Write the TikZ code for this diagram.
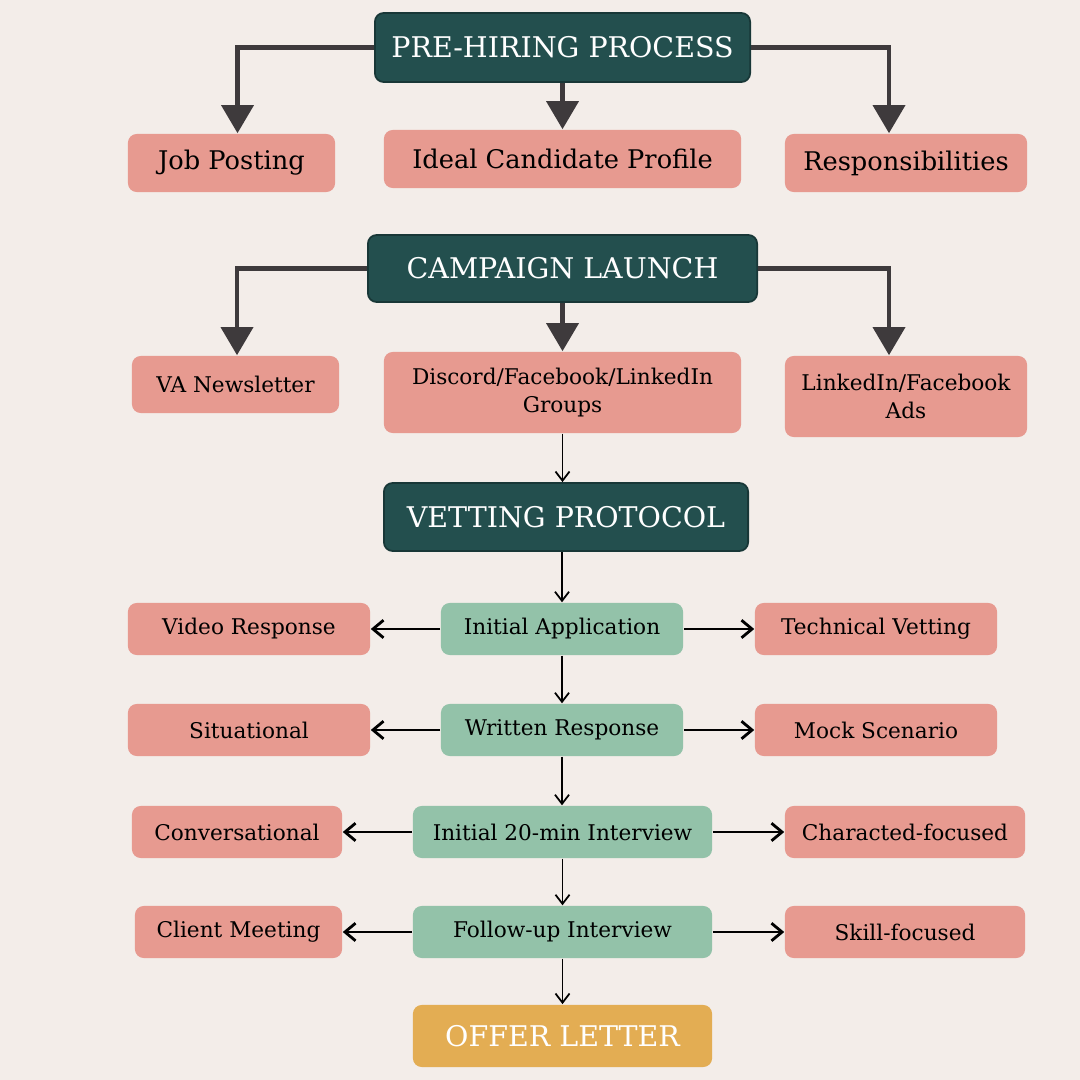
\documentclass[tikz,border=0pt]{standalone}
\usepackage{fontspec}
\setmainfont{DejaVu Serif}
\usetikzlibrary{arrows.meta}

\definecolor{paper}{HTML}{F3EDE9}
\definecolor{teal}{HTML}{234F4E}
\definecolor{rose}{HTML}{E79A90}
\definecolor{sage}{HTML}{93C2A9}
\definecolor{gold}{HTML}{E3AD53}
\definecolor{ink}{HTML}{3E3A3C}

\begin{document}
\begin{tikzpicture}[x=0.01cm, y=-0.01cm,
  title/.style={rectangle, rounded corners=2.5pt, fill=teal, draw=teal!70!black, line width=0.5pt, text=white, font=\fontsize{8.1}{9}\selectfont, inner sep=0pt},
  item/.style={rectangle, rounded corners=2.5pt, fill=rose, text=black, font=\fontsize{6.15}{8.2}\selectfont, align=center, inner sep=0pt},
  bigitem/.style={item, font=\fontsize{7.3}{8}\selectfont},
  stage/.style={item, fill=sage},
  offerbox/.style={title, fill=gold, draw=none},
  fat/.style={draw=ink, line width=1.4pt, -{Triangle[width=9pt,length=8pt]}},
  down/.style={draw=black, line width=0.5pt, -{Straight Barb[length=2.6pt,width=4pt]}},
  side/.style={draw=black, line width=0.8pt, -{Straight Barb[length=3pt,width=5pt]}}]

\fill[paper] (0,0) rectangle (1080,1080);
\useasboundingbox (0,0) rectangle (1080,1080);

% pre-hiring
\node[title, minimum width=3.75cm, minimum height=0.69cm] (pre) at (562.5,47.5) {PRE-HIRING PROCESS};
\node[bigitem, minimum width=2.07cm, minimum height=0.58cm] (job) at (231.5,163) {Job Posting};
\node[bigitem, minimum width=3.57cm, minimum height=0.58cm] (ideal) at (562.5,159) {Ideal Candidate Profile};
\node[bigitem, minimum width=2.42cm, minimum height=0.58cm] (resp) at (906,163) {Responsibilities};

\draw[fat] (pre.west) -| ([xshift=0.06cm]job.north);
\draw[fat] (pre.south) -- (ideal.north);
\draw[fat] (pre.east) -| ([xshift=-0.17cm]resp.north);

% campaign
\node[title, minimum width=3.89cm, minimum height=0.67cm] (camp) at (562.5,268.5) {CAMPAIGN LAUNCH};
\node[item, minimum width=2.07cm, minimum height=0.57cm] (va) at (235.5,384.5) {VA Newsletter};
\node[item, minimum width=3.57cm, minimum height=0.81cm] (disc) at (562.5,392.5) {Discord/Facebook/LinkedIn\\Groups};
\node[item, minimum width=2.42cm, minimum height=0.81cm] (ads) at (906,396.5) {LinkedIn/Facebook\\Ads};

\draw[fat] (camp.west) -| ([xshift=0.015cm]va.north);
\draw[fat] (camp.south) -- (disc.north);
\draw[fat] (camp.east) -| ([xshift=-0.17cm]ads.north);

% vetting
\node[title, minimum width=3.64cm, minimum height=0.68cm] (vet) at (566,517) {VETTING PROTOCOL};
\draw[down] (disc.south) -- (disc.south |- vet.north);

\node[stage, minimum width=2.42cm, minimum height=0.52cm] (app) at (562,629) {Initial Application};
\node[item, minimum width=2.42cm, minimum height=0.52cm] (video) at (249,629) {Video Response};
\node[item, minimum width=2.42cm, minimum height=0.52cm] (tech) at (876,629) {Technical Vetting};

\node[stage, minimum width=2.42cm, minimum height=0.52cm] (writ) at (562,730) {Written Response};
\node[item, minimum width=2.42cm, minimum height=0.52cm] (sit) at (249,730) {Situational};
\node[item, minimum width=2.42cm, minimum height=0.52cm] (mock) at (876,730) {Mock Scenario};

\node[stage, minimum width=2.99cm, minimum height=0.52cm] (intv) at (562.5,832) {Initial 20-min Interview};
\node[item, minimum width=2.10cm, minimum height=0.52cm] (conv) at (237,832) {Conversational};
\node[item, minimum width=2.40cm, minimum height=0.52cm] (char) at (905,832) {Characted-focused};

\node[stage, minimum width=2.99cm, minimum height=0.52cm] (foll) at (562.5,932) {Follow-up Interview};
\node[item, minimum width=2.07cm, minimum height=0.52cm] (client) at (238.5,932) {Client Meeting};
\node[item, minimum width=2.40cm, minimum height=0.52cm] (skill) at (905,932) {Skill-focused};

\node[offerbox, minimum width=2.99cm, minimum height=0.62cm] (offer) at (562.5,1036) {OFFER LETTER};

\draw[down] (vet.south -| app.north) -- (app.north);
\draw[down] (app) -- (writ);
\draw[down] (writ.south) -- (writ.south |- intv.north);
\draw[down] (intv) -- (foll);
\draw[down] (foll) -- (offer);

\draw[side] (app) -- (video);
\draw[side] (app) -- (tech);
\draw[side] (writ) -- (sit);
\draw[side] (writ) -- (mock);
\draw[side] (intv) -- (conv);
\draw[side] (intv) -- (char);
\draw[side] (foll) -- (client);
\draw[side] (foll) -- (skill);
\end{tikzpicture}
\end{document}
